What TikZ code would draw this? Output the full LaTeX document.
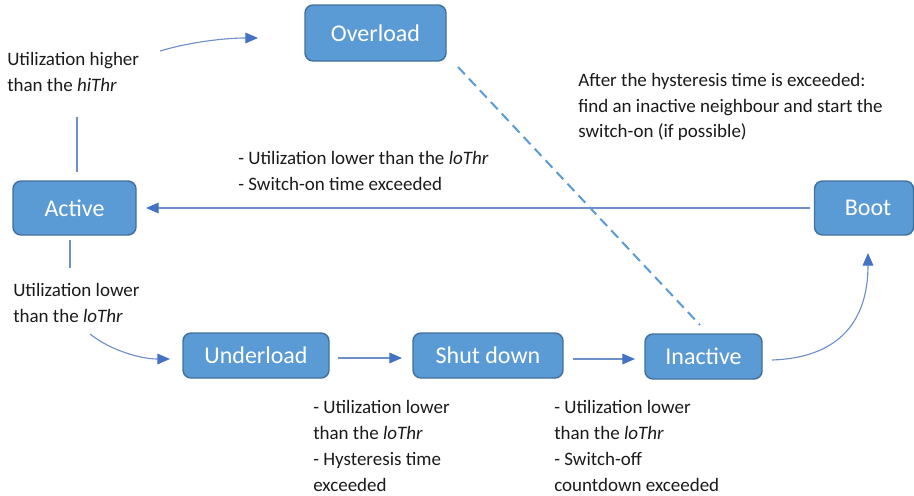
\documentclass[tikz,border=0pt]{standalone}
\usepackage{fontspec}
\setmainfont{Carlito}
\usetikzlibrary{arrows.meta,calc}

\definecolor{stateFill}{HTML}{5B9BD5}
\definecolor{stateEdge}{HTML}{41719C}
\definecolor{flow}{HTML}{4472C4}
\definecolor{flowLine}{HTML}{6F8FCB}
\definecolor{txt}{HTML}{1A1A1A}

\tikzset{
  state/.style 2 args={draw=stateEdge, fill=stateFill, line width=1.1pt,
    rounded corners=6pt, text=white, inner sep=0pt, outer sep=0pt,
    font=\fontsize{18pt}{21.6pt}\selectfont,
    minimum width=#1*0.75pt, minimum height=#2*0.75pt},
  note/.style={anchor=west, align=left, inner sep=0pt, text=txt,
    font=\fontsize{14.25pt}{19.3pt}\selectfont},
  link/.style={draw=flowLine, line width=0.85pt},
  move/.style={link, -{Triangle[length=9.5pt,width=8pt,color=flow]}},
  hint/.style={draw=stateFill, line width=1.5pt, dash pattern=on 7.5pt off 4.5pt}
}

\begin{document}
\begin{tikzpicture}[x=0.75pt, y=-0.75pt]
  \useasboundingbox (0,0) rectangle (914,496);

  % states
  \node[state={141}{56}] (over)  at (375.5,33)  {Overload};
  \node[state={123}{54}] (act)   at (74.5,208)  {Active};
  \node[state={99}{54}]  (boot)  at (864,208)   {\hspace*{6pt}Boot};
  \node[state={146}{45}] (under) at (256,355.5) {Underload};
  \node[state={150}{45}] (shut)  at (488,355.5) {Shut down};
  \node[state={117}{45}] (inact) at (703.5,356.5) {\raisebox{-2pt}{Inactive}};

  % transition labels
  \node[note] (lhi) at (7,72) {Utilization higher\\than the \textit{hiThr}};
  \node[note] (lback) at (238,171) {- Utilization lower than the \textit{loThr}\\- Switch-on time exceeded};
  \node[note] (lhyst) at (578,107) {After the hysteresis time is exceeded:\\find an inactive neighbour and start the\\switch-on (if possible)};
  \node[note] (llo) at (13,303) {Utilization lower\\than the \textit{loThr}};
  \node[note] (lshut) at (313,446) {- Utilization lower\\than the \textit{loThr}\\- Hysteresis time\\exceeded};
  \node[note] (linact) at (554,446) {- Utilization lower\\than the \textit{loThr}\\- Switch-off\\countdown exceeded};

  % Active -> Overload, interrupted by its label
  \coordinate (hiA) at ($(act.north)+(2.5,-9)$);
  \coordinate (hiB) at ($(act.north)+(2.5,-64)$);
  \coordinate (hiC) at (160,51);
  \coordinate (hiD) at ($(over.west)+(-47,5)$);
  \draw[link] (hiA) -- (hiB);
  \draw[move] (hiC) .. controls (190,42) and (225,38) .. (hiD);

  % Active -> Underload, interrupted by its label
  \coordinate (loA) at ($(act.south)+(-4.5,5)$);
  \coordinate (loB) at ($(act.south)+(-4.5,33)$);
  \coordinate (loC) at (90,334);
  \coordinate (loD) at ($(under.west)+(-13,3.5)$);
  \draw[link] (loA) -- (loB);
  \draw[move] (loC) .. controls (110,350) and (140,359) .. (loD);

  % chain along the bottom
  \draw[move] ($(under.east)+(9,2.5)$) -- ($(shut.west)+(-11,2.5)$);
  \draw[move] ($(shut.east)+(10,3.5)$) -- ($(inact.west)+(-10,2.5)$);

  % Inactive -> Boot
  \coordinate (upB) at ($(boot.south)+(4,18)$);
  \draw[move] ($(inact.east)+(10,3.5)$) .. controls (835,358) and (868,325) .. (upB);

  % Boot -> Active
  \draw[move] ($(boot.west)+(-5,0)$) -- ($(act.east)+(10,0)$);

  % hysteresis link between Overload and Inactive
  \draw[hint] ($(over.south east)+(12,6)$) -- ($(inact.north)+(-3.5,-9)$);
\end{tikzpicture}
\end{document}
